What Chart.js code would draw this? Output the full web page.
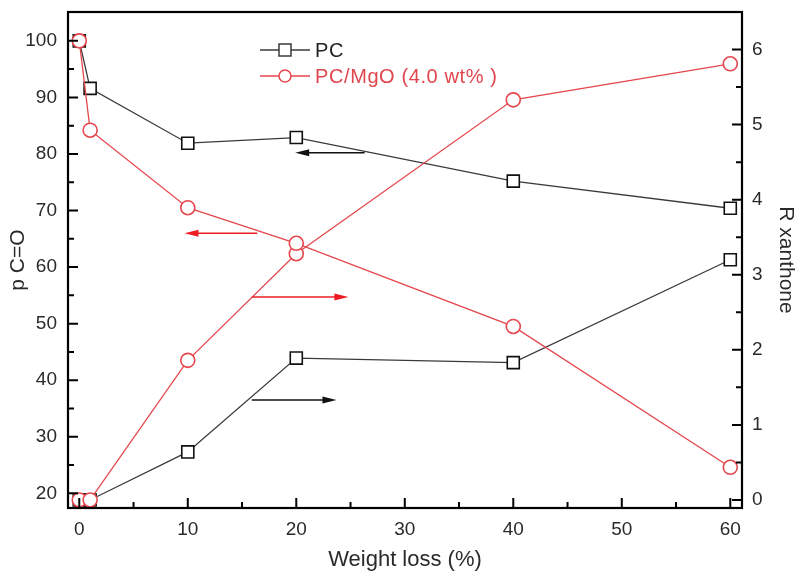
<!DOCTYPE html>
<html>
<head>
<meta charset="utf-8">
<script src="https://cdn.jsdelivr.net/npm/chart.js@4"></script>
<style>
html, body { margin: 0; padding: 0; background: #fff; }
#wrap { width: 800px; height: 581px; }
</style>
</head>
<body>
<div id="wrap"><canvas id="grafico" width="800" height="581"></canvas></div>
<script>
// ===========================
// Dados
// ===========================
const weightLoss = [0, 1, 10, 20, 40, 60];

// eixo esquerdo (p C=O)
const pcCO = [100, 91.6, 81.9, 82.9, 75.2, 70.4];
const mgoCO = [100, 84.2, 70.5, 64.2, 49.5, 24.6];

// eixo direito (R xanthone)
const pcXan = [0, 0, 0.64, 1.89, 1.83, 3.2];
const mgoXan = [0, 0, 1.86, 3.28, 5.33, 5.81];

const xTicks = [0, 10, 20, 30, 40, 50, 60];
const leftTicks = [20, 30, 40, 50, 60, 70, 80, 90, 100];
const rightTicks = [0, 1, 2, 3, 4, 5, 6];

const seriesNames = ["PC", "PC/MgO (4.0 wt% )"];

// setas (x inicial, x final, nivel no eixo esquerdo)
const arrowFrom = [26.3, 16.4, 15.9, 15.9];
const arrowTo = [19.9, 9.7, 24.8, 23.7];
const arrowLevel = [80.2, 66, 54.7, 36.5];

const BLACK = "#3a3a3a";
const RED = "#e5474e";
const arrowColors = ["#111", "#ee1c25", "#ee1c25", "#111"];

const FONT = "'Liberation Sans', Arial, sans-serif";

function pts(ys) {
    return weightLoss.map((x, i) => ({ x: x, y: ys[i] }));
}

// sem margem extra dos rotulos
function noPad(s) {
    s.paddingTop = 0;
    s.paddingBottom = 0;
    s.paddingLeft = 0;
    s.paddingRight = 0;
}

// ===========================
// Plugin: moldura, ticks internos, setas, legenda
// ===========================
const extras = {
    id: "extras",
    afterDatasetsDraw(chart) {
        const ctx = chart.ctx;
        const a = chart.chartArea;
        const sx = chart.scales.x;
        const sl = chart.scales.yL;
        const sr = chart.scales.yR;

        ctx.save();

        // setas
        arrowFrom.forEach((x0, i) => {
            const px0 = sx.getPixelForValue(x0);
            const px1 = sx.getPixelForValue(arrowTo[i]);
            const py = sl.getPixelForValue(arrowLevel[i]);
            const dir = px1 > px0 ? 1 : -1;
            ctx.strokeStyle = arrowColors[i];
            ctx.fillStyle = arrowColors[i];
            ctx.lineWidth = 1.5;
            ctx.beginPath();
            ctx.moveTo(px0, py);
            ctx.lineTo(px1 - dir * 10, py);
            ctx.stroke();
            ctx.beginPath();
            ctx.moveTo(px1, py);
            ctx.lineTo(px1 - dir * 14, py - 3.5);
            ctx.lineTo(px1 - dir * 14, py + 3.5);
            ctx.closePath();
            ctx.fill();
        });

        // moldura
        ctx.strokeStyle = "#000";
        ctx.lineWidth = 2.2;
        ctx.strokeRect(a.left, a.top, a.right - a.left, a.bottom - a.top);

        // ticks internos
        ctx.lineWidth = 2;
        ctx.beginPath();
        for (let v = 0; v <= 60; v += 5) {
            const px = sx.getPixelForValue(v);
            const len = v % 10 === 0 ? 10 : 6;
            ctx.moveTo(px, a.bottom);
            ctx.lineTo(px, a.bottom - len);
        }
        for (let v = 20; v <= 100; v += 5) {
            const py = sl.getPixelForValue(v);
            const len = v % 10 === 0 ? 10 : 6;
            ctx.moveTo(a.left, py);
            ctx.lineTo(a.left + len, py);
        }
        for (let v = 0; v <= 6; v += 0.5) {
            const py = sr.getPixelForValue(v);
            const len = v % 1 === 0 ? 10 : 6;
            ctx.moveTo(a.right, py);
            ctx.lineTo(a.right - len, py);
        }
        ctx.stroke();

        // legenda
        const legend = [
            { text: seriesNames[0], color: BLACK, textColor: "#222", y: 50, square: true },
            { text: seriesNames[1], color: RED, textColor: "#e0464d", y: 76, square: false }
        ];
        legend.forEach(l => {
            ctx.strokeStyle = l.color;
            ctx.lineWidth = 1.3;
            ctx.beginPath();
            ctx.moveTo(260, l.y);
            ctx.lineTo(310, l.y);
            ctx.stroke();
            ctx.fillStyle = "#fff";
            ctx.lineWidth = 1.5;
            if (l.square) {
                ctx.fillRect(279, l.y - 6, 12, 12);
                ctx.strokeRect(279, l.y - 6, 12, 12);
            } else {
                ctx.beginPath();
                ctx.arc(285, l.y, 6, 0, Math.PI * 2);
                ctx.fill();
                ctx.stroke();
            }
            ctx.fillStyle = l.textColor;
            ctx.font = "20px " + FONT;
            ctx.letterSpacing = "0.6px";
            ctx.textBaseline = "middle";
            ctx.textAlign = "left";
            ctx.fillText(l.text, 315, l.y + 1);
        });

        ctx.restore();
    }
};

// ===========================
// Grafico
// ===========================
const ctx = document.getElementById("grafico").getContext("2d");

const redPoint = {
    pointStyle: "circle",
    pointRadius: 7,
    pointBorderColor: RED,
    pointBackgroundColor: "#fff",
    pointBorderWidth: 1.6
};

const blackPoint = {
    pointStyle: "rect",
    pointRadius: 8.5,
    pointBorderColor: "#111",
    pointBackgroundColor: "#fff",
    pointBorderWidth: 1.6
};

new Chart(ctx, {
    type: "line",
    data: {
        datasets: [
            { label: "PC/MgO C=O", data: pts(mgoCO), yAxisID: "yL", borderColor: RED, ...redPoint },
            { label: "PC/MgO xanthone", data: pts(mgoXan), yAxisID: "yR", borderColor: RED, ...redPoint },
            { label: "PC C=O", data: pts(pcCO), yAxisID: "yL", borderColor: BLACK, ...blackPoint },
            { label: "PC xanthone", data: pts(pcXan), yAxisID: "yR", borderColor: BLACK, ...blackPoint }
        ]
    },
    options: {
        responsive: false,
        animation: false,
        elements: {
            line: { borderWidth: 1.3, tension: 0, fill: false }
        },
        layout: { padding: { top: 12, left: 0, right: 0, bottom: 0 } },
        plugins: {
            legend: { display: false },
            tooltip: { enabled: false }
        },
        scales: {
            x: {
                type: "linear",
                position: "bottom",
                min: -1.04,
                max: 61.08,
                afterBuildTicks: s => { s.ticks = xTicks.map(v => ({ value: v })); },
                afterFit: s => { s.height = 73; noPad(s); },
                grid: { display: false, drawTicks: false },
                border: { display: false },
                ticks: {
                    padding: 10,
                    color: "#2a2a2a",
                    font: { family: FONT, size: 19 },
                    maxRotation: 0
                },
                title: {
                    display: true,
                    text: "Weight loss (%)",
                    color: "#2a2a2a",
                    font: { family: FONT, size: 22 },
                    padding: { top: 0, bottom: 8 }
                }
            },
            yL: {
                type: "linear",
                position: "left",
                min: 17.4,
                max: 105.1,
                afterBuildTicks: s => { s.ticks = leftTicks.map(v => ({ value: v })); },
                afterFit: s => { s.width = 68; noPad(s); },
                grid: { display: false, drawTicks: false },
                border: { display: false },
                ticks: {
                    padding: 11,
                    color: "#2a2a2a",
                    font: { family: FONT, size: 19 }
                },
                title: {
                    display: true,
                    text: "p C=O",
                    color: "#2a2a2a",
                    font: { family: FONT, size: 21 },
                    padding: { top: 6, bottom: 0 }
                }
            },
            yR: {
                type: "linear",
                position: "right",
                min: -0.107,
                max: 6.5,
                afterBuildTicks: s => { s.ticks = rightTicks.map(v => ({ value: v })); },
                afterFit: s => { s.width = 58; noPad(s); },
                grid: { display: false, drawTicks: false },
                border: { display: false },
                ticks: {
                    padding: 10,
                    color: "#2a2a2a",
                    font: { family: FONT, size: 19 }
                },
                title: {
                    display: true,
                    text: "R xanthone",
                    color: "#2a2a2a",
                    font: { family: FONT, size: 21 },
                    padding: { top: 2, bottom: 0 }
                }
            }
        }
    },
    plugins: [extras]
});
</script>
</body>
</html>
